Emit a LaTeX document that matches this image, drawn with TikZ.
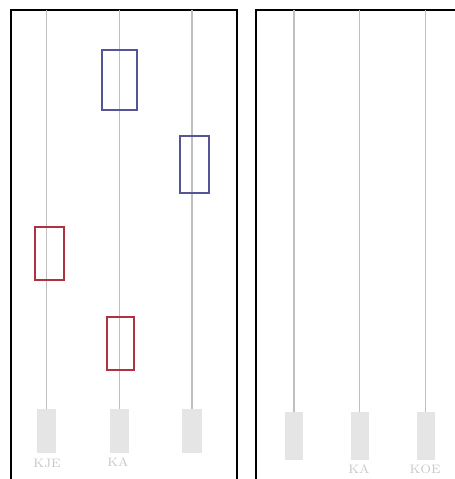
\documentclass[tikz,border=0pt]{standalone}
\usepackage{tikz}

\definecolor{boxblue}{RGB}{85,85,150}
\definecolor{boxred}{RGB}{175,50,65}
\tikzset{
  lane/.style={draw=black!25, line width=0.6pt},
  foot/.style={fill=black!10, inner sep=0pt},
  hit/.style={draw, line width=0.9pt, inner sep=0pt},
  tag/.style={text=black!22, inner sep=0pt, font=\fontsize{7}{8}\selectfont}
}

\begin{document}
\begin{tikzpicture}[x=0.02cm, y=-0.02cm]
	\clip (0,0) rectangle (455,479);

	% frames
	\draw[line width=1.1pt] (11,10) rectangle (237,495);
	\draw[line width=1.1pt] (256,10) rectangle (470,495);

	% left panel
	\node[foot, minimum width=3.8mm, minimum height=8.8mm] (kjeL) at (46.5,431) {};
	\node[foot, minimum width=3.8mm, minimum height=8.8mm] (kaL) at (119.5,431) {};
	\node[foot, minimum width=4mm, minimum height=8.8mm] (koeL) at (192,431) {};
	\coordinate (topkjeL) at (46.5,10);
	\coordinate (topkaL) at (119.5,10);
	\coordinate (topkoeL) at (192,10);
	\draw[lane] (topkjeL) -- (kjeL.north);
	\draw[lane] (topkaL) -- (kaL.north);
	\draw[lane] (topkoeL) -- (koeL.north);
	\node[tag] (kjeLabel) at (47,463) {KJE};
	\node[tag] (kaLabel) at (118,462) {KA};

	\node[hit, boxblue, minimum width=7mm, minimum height=12mm] (blueA) at (119.5,80) {};
	\node[hit, boxblue, minimum width=5.8mm, minimum height=11.4mm] (blueB) at (194.5,164.5) {};
	\node[hit, boxred, minimum width=5.8mm, minimum height=10.6mm] (redA) at (49.5,253.5) {};
	\node[hit, boxred, minimum width=5.4mm, minimum height=10.6mm] (redB) at (120.5,343.5) {};

	% right panel
	\node[foot, minimum width=3.6mm, minimum height=9.6mm] (kjeR) at (294,436) {};
	\node[foot, minimum width=3.6mm, minimum height=9.6mm] (kaR) at (359.5,436) {};
	\node[foot, minimum width=3.6mm, minimum height=9.6mm] (koeR) at (425.5,436) {};
	\coordinate (topkjeR) at (294,10);
	\coordinate (topkaR) at (359.5,10);
	\coordinate (topkoeR) at (425.5,10);
	\draw[lane] (topkjeR) -- (kjeR.north);
	\draw[lane] (topkaR) -- (kaR.north);
	\draw[lane] (topkoeR) -- (koeR.north);
	\node[tag] (kaRLabel) at (359,469) {KA};
	\node[tag] (koeRLabel) at (425,469) {KOE};
\end{tikzpicture}
\end{document}
